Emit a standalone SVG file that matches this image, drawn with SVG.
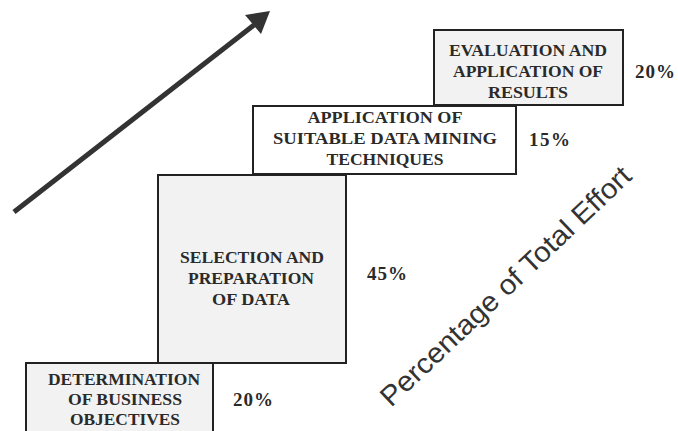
<svg xmlns="http://www.w3.org/2000/svg" width="678" height="431" viewBox="0 0 678 431">
<style>
.box{stroke:#222;stroke-width:2}
.g{fill:#f2f2f2}
.w{fill:#ffffff}
.lbl{font-family:"Liberation Serif","Times New Roman",serif;font-weight:bold;font-size:17.5px;fill:#2a2a2a;text-anchor:middle}
.pct{font-family:"Liberation Serif","Times New Roman",serif;font-weight:bold;font-size:19px;fill:#2a2a2a}
.axis{font-family:"Liberation Sans",Arial,sans-serif;font-size:28px;fill:#333}
</style>
<rect width="678" height="431" fill="#ffffff"/>
<g id="connectors">
<line x1="14" y1="212" x2="254" y2="25" stroke="#333" stroke-width="5" stroke-linecap="butt"/>
<polygon points="270,11 245,15 261,34" fill="#333"/>
</g>
<g id="node-determination">
<rect class="box g" x="26" y="363" width="187" height="80"/>
<text class="lbl" x="124" y="385" textLength="152" lengthAdjust="spacingAndGlyphs">DETERMINATION</text>
<text class="lbl" x="125" y="405" textLength="114" lengthAdjust="spacingAndGlyphs">OF BUSINESS</text>
<text class="lbl" x="125" y="425" textLength="110" lengthAdjust="spacingAndGlyphs">OBJECTIVES</text>
<text class="pct" x="233" y="406" textLength="40">20%</text>
</g>
<g id="node-selection">
<rect class="box g" x="158" y="175" width="188" height="188"/>
<text class="lbl" x="252" y="263" textLength="144" lengthAdjust="spacingAndGlyphs">SELECTION AND</text>
<text class="lbl" x="251" y="284" textLength="126" lengthAdjust="spacingAndGlyphs">PREPARATION</text>
<text class="lbl" x="251" y="305" textLength="78" lengthAdjust="spacingAndGlyphs">OF DATA</text>
<text class="pct" x="367" y="280" textLength="40">45%</text>
</g>
<g id="node-application">
<rect class="box w" x="253" y="106" width="263" height="68"/>
<text class="lbl" x="385" y="123" textLength="155" lengthAdjust="spacingAndGlyphs">APPLICATION OF</text>
<text class="lbl" x="385" y="144" textLength="224" lengthAdjust="spacingAndGlyphs">SUITABLE DATA MINING</text>
<text class="lbl" x="385" y="165" textLength="117" lengthAdjust="spacingAndGlyphs">TECHNIQUES</text>
<text class="pct" x="529" y="146" textLength="41">15%</text>
</g>
<g id="node-evaluation">
<rect class="box g" x="434" y="30" width="189" height="75"/>
<text class="lbl" x="528" y="56" textLength="158" lengthAdjust="spacingAndGlyphs">EVALUATION AND</text>
<text class="lbl" x="528" y="77" textLength="150" lengthAdjust="spacingAndGlyphs">APPLICATION OF</text>
<text class="lbl" x="528" y="98" textLength="80" lengthAdjust="spacingAndGlyphs">RESULTS</text>
<text class="pct" x="635" y="78" textLength="40">20%</text>
</g>
<text class="axis" x="391" y="408" transform="rotate(-43.5 391 408)" textLength="334" lengthAdjust="spacingAndGlyphs">Percentage of Total Effort</text>
</svg>
